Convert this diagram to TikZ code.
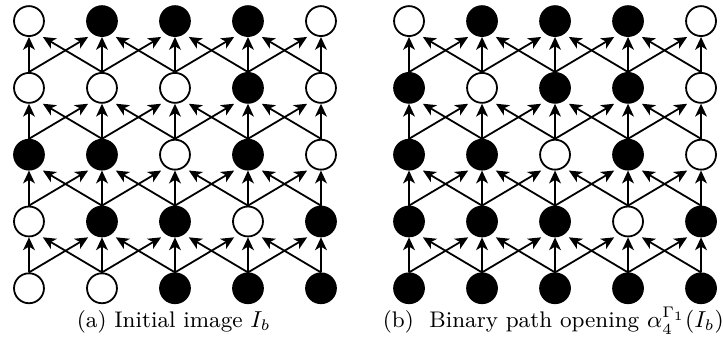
\documentclass[tikz,border=0pt]{standalone}
\usetikzlibrary{arrows.meta,calc}

\tikzset{
  pixel/.style={circle, draw, line width=0.7pt, minimum size=0.41cm, inner sep=0pt},
  blk/.style={pixel, fill=black},
  wht/.style={pixel, fill=white},
  link/.style={-{Stealth[length=5pt,width=4.6pt,inset=1.4pt]}, line width=0.7pt},
  caption/.style={anchor=base, font=\fontsize{8.8}{10}\selectfont},
}

\begin{document}
\begin{tikzpicture}
  % Spacing of the grid
  \def\dx{1}       % between columns
  \def\dy{0.915}   % between rows
  \def\top{4.56}   % height of the first row
  \def\off{0.19}   % side offset of the slanted arrow tips

  \useasboundingbox (0,0) rectangle (9.904,4.849);

  % Initial image (rows from top to bottom)
  \foreach \r/\vals in {1/{wht,blk,blk,blk,wht},
                        2/{wht,wht,wht,blk,wht},
                        3/{blk,blk,wht,blk,wht},
                        4/{wht,blk,blk,wht,blk},
                        5/{wht,wht,blk,blk,blk}}
    \foreach \v [count=\c] in \vals
      \node[\v] (a\r\c) at ({0.397+(\c-1)*\dx}, {\top-(\r-1)*\dy}) {};

  % Path opening
  \foreach \r/\vals in {1/{wht,blk,blk,blk,wht},
                        2/{blk,wht,blk,blk,wht},
                        3/{blk,blk,wht,blk,wht},
                        4/{blk,blk,blk,wht,blk},
                        5/{blk,blk,blk,blk,blk}}
    \foreach \v [count=\c] in \vals
      \node[\v] (b\r\c) at ({5.603+(\c-1)*\dx}, {\top-(\r-1)*\dy}) {};

  % Adjacency: each pixel points to its three upper neighbours
  \foreach \g in {a,b}
    \foreach \r in {2,...,5}
      \foreach \c in {1,...,5} {
        \pgfmathtruncatemacro\u{\r-1}
        \pgfmathtruncatemacro\cl{\c-1}
        \pgfmathtruncatemacro\cr{\c+1}
        \draw[link] (\g\r\c.north) -- (\g\u\c.south);
        \ifnum\c>1
          \draw[link] (\g\r\c.north) -- ($(\g\u\cl.south)+(\off,0)$);
        \fi
        \ifnum\c<5
          \draw[link] (\g\r\c.north) -- ($(\g\u\cr.south)+(-\off,0)$);
        \fi
      }

  % Captions
  \node[caption] (capa) at (2.38,0.356) {(a) Initial image $I_b$};
  \node[caption] (capb) at (7.58,0.356) {(b)\ \ Binary path opening $\alpha_4^{\Gamma_1}(I_b)$};
\end{tikzpicture}
\end{document}
